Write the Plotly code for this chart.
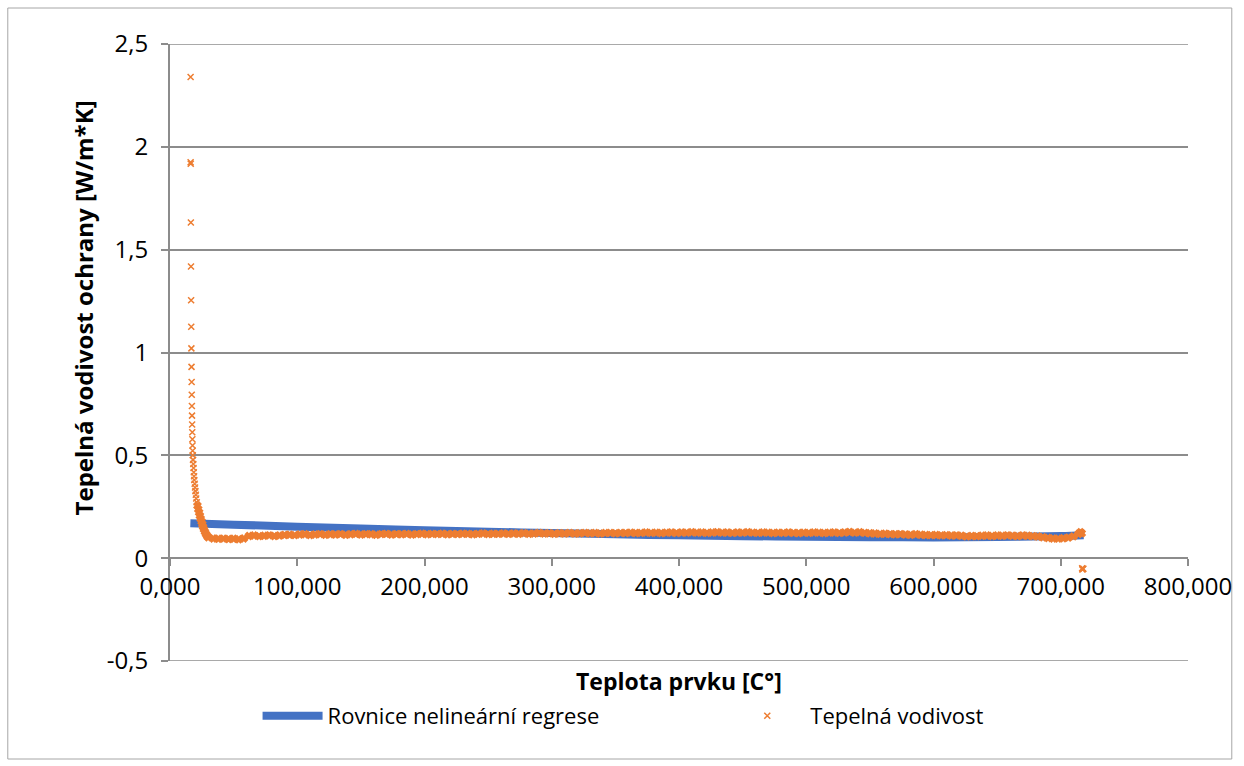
import plotly.graph_objects as go

# ---- data ----
fit_x = [16, 50, 100, 150, 200, 250, 300, 350, 400, 450, 500, 550, 600, 650, 700, 718]
fit_y = [0.170, 0.163, 0.153, 0.144, 0.136, 0.129, 0.122, 0.116, 0.111, 0.107,
         0.104, 0.102, 0.101, 0.103, 0.108, 0.112]

spike_x = [16.2, 16.2, 16.3, 16.4, 16.5, 16.6, 16.7, 16.8, 16.9, 17.0, 17.1, 17.2, 17.3,
           17.4, 17.5, 17.6, 17.7, 17.8, 17.9, 18.1, 18.3, 18.5, 18.7, 18.9, 19.1, 19.4,
           19.7, 20.0, 20.3, 20.6, 21.0, 21.6, 22.2, 22.9, 23.5, 24.1, 24.8, 25.4, 26.0,
           26.7, 27.5, 28.3, 29.2]
spike_y = [2.340, 1.925, 1.918, 1.632, 1.418, 1.254, 1.125, 1.020, 0.930, 0.857, 0.795,
           0.740, 0.693, 0.650, 0.612, 0.578, 0.548, 0.522, 0.500, 0.478, 0.458, 0.438,
           0.418, 0.398, 0.380, 0.362, 0.344, 0.326, 0.308, 0.290, 0.272, 0.255, 0.238,
           0.222, 0.206, 0.192, 0.178, 0.165, 0.152, 0.140, 0.128, 0.117, 0.108]

band_x = [30, 34, 38, 42, 46, 50, 54, 58, 62, 66,
          70, 74, 78, 82, 86, 90, 94, 98, 102, 106,
          110, 114, 118, 122, 126, 130, 134, 138, 142, 146,
          150, 154, 158, 162, 166, 170, 174, 178, 182, 186,
          190, 194, 198, 202, 206, 210, 214, 218, 222, 226,
          230, 234, 238, 242, 246, 250, 254, 258, 262, 266,
          270, 274, 278, 282, 286, 290, 294, 298, 302, 306,
          310, 314, 318, 322, 326, 330, 334, 338, 342, 346,
          350, 354, 358, 362, 366, 370, 374, 378, 382, 386,
          390, 394, 398, 402, 406, 410, 414, 418, 422, 426,
          430, 434, 438, 442, 446, 450, 454, 458, 462, 466,
          470, 474, 478, 482, 486, 490, 494, 498, 502, 506,
          510, 514, 518, 522, 526, 530, 534, 538, 542, 546,
          550, 554, 558, 562, 566, 570, 574, 578, 582, 586,
          590, 594, 598, 602, 606, 610, 614, 618, 622, 626,
          630, 634, 638, 642, 646, 650, 654, 658, 662, 666,
          670, 674, 678, 682, 686, 690, 694, 698, 702, 706,
          710, 714, 715.5, 716.5]
band_y = [0.101, 0.096, 0.094, 0.095, 0.093, 0.094, 0.092, 0.096, 0.108, 0.110,
          0.107, 0.109, 0.111, 0.108, 0.110, 0.113, 0.114, 0.112, 0.115, 0.116,
          0.113, 0.115, 0.117, 0.114, 0.116, 0.115, 0.117, 0.114, 0.116, 0.118,
          0.115, 0.117, 0.116, 0.114, 0.117, 0.118, 0.115, 0.117, 0.116, 0.118,
          0.115, 0.117, 0.119, 0.116, 0.118, 0.117, 0.119, 0.116, 0.118, 0.117,
          0.119, 0.118, 0.116, 0.118, 0.120, 0.117, 0.119, 0.118, 0.120, 0.118,
          0.120, 0.119, 0.121, 0.119, 0.120, 0.122, 0.120, 0.121, 0.119, 0.121,
          0.120, 0.122, 0.120, 0.121, 0.123, 0.121, 0.122, 0.120, 0.122, 0.123,
          0.121, 0.123, 0.122, 0.124, 0.122, 0.123, 0.125, 0.123, 0.124, 0.122,
          0.124, 0.125, 0.123, 0.125, 0.124, 0.126, 0.124, 0.125, 0.123, 0.125,
          0.126, 0.124, 0.125, 0.123, 0.125, 0.124, 0.126, 0.124, 0.123, 0.125,
          0.124, 0.122, 0.124, 0.123, 0.125, 0.123, 0.122, 0.124, 0.123, 0.125,
          0.124, 0.122, 0.124, 0.125, 0.123, 0.125, 0.127, 0.124, 0.126, 0.123,
          0.121, 0.120, 0.118, 0.119, 0.117, 0.116, 0.117, 0.115, 0.114, 0.116,
          0.114, 0.113, 0.112, 0.113, 0.111, 0.112, 0.110, 0.111, 0.109, 0.106,
          0.108, 0.107, 0.109, 0.110, 0.108, 0.110, 0.109, 0.111, 0.109, 0.108,
          0.110, 0.109, 0.107, 0.105, 0.102, 0.098, 0.096, 0.095, 0.097, 0.100,
          0.106, 0.118, 0.126, 0.121]

outlier_x = [716.8, 717.0, 717.3, 717.8]
outlier_y = [-0.049, -0.055, -0.053, -0.051]

x_ticks = [0, 100, 200, 300, 400, 500, 600, 700, 800]
x_labels = ["0,000", "100,000", "200,000", "300,000", "400,000",
            "500,000", "600,000", "700,000", "800,000"]
y_ticks = [-0.5, 0, 0.5, 1, 1.5, 2, 2.5]
y_labels = ["-0,5", "0", "0,5", "1", "1,5", "2", "2,5"]

n = min(len(band_x), len(band_y))
cond_x = spike_x + band_x[:n] + outlier_x
cond_y = spike_y + band_y[:n] + outlier_y
# isolated markers are thin crosses; densely packed ones merge into a solid band
thin_head = 31
n_dense = len(spike_x) - thin_head + n
symbols = ["x-thin"] * thin_head + ["x"] * n_dense + ["x-thin"] * len(outlier_x)

# ---- figure ----
W, H = 1244, 766
L, R, T, B = 170, 51, 44, 105
pw, ph = W - L - R, H - T - B
def px_x(p): return (p - L) / pw
def px_y(p): return (H - B - p) / ph

FONT = "Open Sans"
GRID = "#8C8C8C"
ymin, ymax = y_ticks[0], y_ticks[-1]

fig = go.Figure()
fig.add_trace(go.Scatter(
    x=fit_x, y=fit_y, mode="lines", name="Rovnice nelineární regrese",
    line=dict(color="#4472C4", width=8, shape="spline"), legend="legend",
))
fig.add_trace(go.Scatter(
    x=cond_x, y=cond_y, mode="markers", name="Tepelná vodivost",
    marker=dict(symbol=symbols, size=6, color="#ED7D31",
                line=dict(color="#ED7D31", width=1.5)), legend="legend2",
))

leg_common = dict(orientation="h", xanchor="left", yanchor="middle",
                  y=px_y(716), font=dict(family=FONT, size=22, color="#000000"),
                  bgcolor="rgba(0,0,0,0)")

fig.update_layout(
    width=W, height=H, autosize=False,
    margin=dict(l=L, r=R, t=T, b=B),
    paper_bgcolor="white", plot_bgcolor="white",
    font=dict(family=FONT, size=21, color="#000000"),
    showlegend=True,
    legend=dict(x=px_x(258), itemwidth=60, **leg_common),
    legend2=dict(x=px_x(727), itemwidth=76, **leg_common),
    xaxis=dict(range=[0, 800], tickvals=x_ticks, ticktext=x_labels,
               showgrid=False, zeroline=False,
               showline=True, linecolor=GRID, linewidth=2,
               ticks="outside", ticklen=7, tickwidth=2, tickcolor=GRID,
               anchor="free", position=(0 - ymin) / (ymax - ymin),
               tickfont=dict(family=FONT, size=24, color="#000000")),
    yaxis=dict(range=[ymin, ymax], tickvals=y_ticks, ticktext=y_labels,
               showgrid=True, gridcolor=GRID, gridwidth=1.5, zeroline=False,
               showline=True, linecolor=GRID, linewidth=2,
               ticks="outside", ticklen=7, tickwidth=2, tickcolor=GRID,
               ticklabelstandoff=8,
               tickfont=dict(family=FONT, size=24, color="#000000")),
    annotations=[
        dict(text="<b>Teplota prvku [C°]</b>", xref="paper", yref="paper",
             x=px_x(681), y=px_y(681), showarrow=False,
             xanchor="center", yanchor="middle",
             font=dict(family=FONT, size=23, color="#000000")),
        dict(text="<b>Tepelná vodivost ochrany [W/m*K]</b>", xref="paper", yref="paper",
             x=px_x(83), y=px_y(308), showarrow=False, textangle=-90,
             xanchor="center", yanchor="middle",
             font=dict(family=FONT, size=24, color="#000000")),
    ],
    shapes=[
        dict(type="rect", xref="paper", yref="paper",
             x0=px_x(7), x1=px_x(1237), y0=px_y(759), y1=px_y(8),
             line=dict(color="#A6A6A6", width=1), fillcolor="rgba(0,0,0,0)",
             layer="below"),
        dict(type="line", xref="paper", yref="y", x0=0, x1=1, y0=ymax, y1=ymax,
             line=dict(color=GRID, width=1.5), layer="below"),
        dict(type="line", xref="paper", yref="y", x0=0, x1=1, y0=ymin, y1=ymin,
             line=dict(color=GRID, width=1.5), layer="below"),
    ],
)

fig.write_html("out.html")
